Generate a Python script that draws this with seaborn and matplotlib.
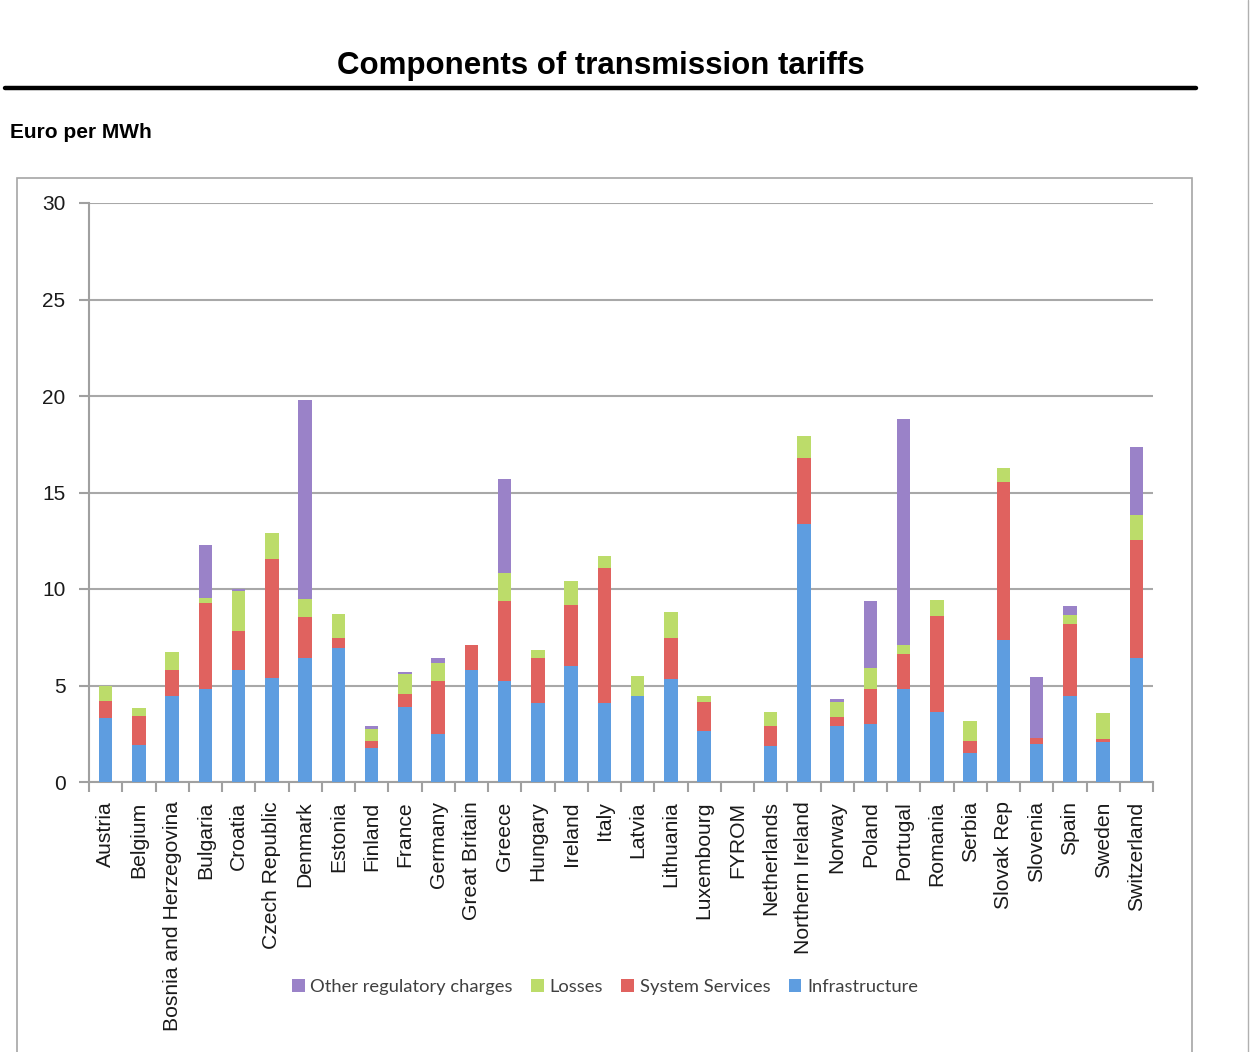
import matplotlib
matplotlib.use("Agg")
import matplotlib.pyplot as plt
from matplotlib.patches import Rectangle, Patch
from matplotlib.lines import Line2D
import numpy as np
import seaborn as sns

countries = ["Austria", "Belgium", "Bosnia and Herzegovina", "Bulgaria", "Croatia",
             "Czech Republic", "Denmark", "Estonia", "Finland", "France", "Germany",
             "Great Britain", "Greece", "Hungary", "Ireland", "Italy", "Latvia",
             "Lithuania", "Luxembourg", "FYROM", "Netherlands", "Northern Ireland",
             "Norway", "Poland", "Portugal", "Romania", "Serbia", "Slovak Rep",
             "Slovenia", "Spain", "Sweden", "Switzerland"]

infrastructure = [3.30, 1.90, 4.47, 4.82, 5.82, 5.39, 6.44, 6.94, 1.78, 3.89, 2.47,
                  5.82, 5.25, 4.09, 5.99, 4.09, 4.44, 5.35, 2.64, 0.00, 1.88, 13.37,
                  2.92, 3.02, 4.82, 3.64, 1.52, 7.37, 1.95, 4.47, 2.06, 6.44]
system_services = [0.90, 1.50, 1.32, 4.45, 2.00, 6.15, 2.09, 0.54, 0.34, 0.65, 2.78,
                   1.28, 4.13, 2.35, 3.20, 7.01, 0.00, 2.13, 1.52, 0.00, 1.04, 3.43,
                   0.45, 1.80, 1.83, 4.98, 0.60, 8.17, 0.35, 3.70, 0.17, 6.10]
losses = [0.80, 0.43, 0.96, 0.28, 2.08, 1.38, 0.93, 1.24, 0.63, 1.07, 0.92,
          0.00, 1.43, 0.38, 1.24, 0.61, 1.07, 1.35, 0.31, 0.00, 0.71, 1.11,
          0.79, 1.07, 0.45, 0.83, 1.04, 0.73, 0.00, 0.47, 1.35, 1.28]
other_charges = [0.00, 0.00, 0.00, 2.73, 0.12, 0.00, 10.35, 0.00, 0.15, 0.11, 0.27,
                 0.00, 4.91, 0.00, 0.00, 0.00, 0.00, 0.00, 0.00, 0.00, 0.00, 0.00,
                 0.12, 3.49, 11.69, 0.00, 0.00, 0.00, 3.14, 0.46, 0.00, 3.54]

series_names = ["Other regulatory charges", "Losses", "System Services", "Infrastructure"]
series_colors = ["#9a82c8", "#bcdc6a", "#e0625f", "#5e9de0"]

sns.set_theme(style="white")
plt.rcParams["font.family"] = ["Liberation Sans", "DejaVu Sans"]

W, H = 1251, 1052
fig = plt.figure(figsize=(W / 100, H / 100), dpi=100)

# outer chart frame
fig.add_artist(Rectangle((17 / W, -0.05), (1192 - 17) / W, 1 - 178 / H + 0.05,
                         transform=fig.transFigure, facecolor="none",
                         edgecolor="#a6a6a6", linewidth=1.2))
fig.add_artist(Line2D([1248 / W, 1248 / W], [0, 1], transform=fig.transFigure,
                      color="#b0b0b0", linewidth=1.0))

# title and rule
fig.text(601 / W, 1 - 66 / H, "Components of transmission tariffs", ha="center",
         va="center", fontsize=22.5, fontweight="bold", color="black")
fig.add_artist(Line2D([5 / W, 1196 / W], [1 - 88 / H, 1 - 88 / H],
                      transform=fig.transFigure, color="black", linewidth=3.2))
fig.text(10 / W, 1 - 133 / H, "Euro per MWh", ha="left", va="center",
         fontsize=15, fontweight="bold", color="black")

ax = fig.add_axes([89 / W, 1 - 782 / H, (1153 - 89) / W, (782 - 203) / H])

# stacked bars drawn as layered cumulative totals
infra = np.array(infrastructure)
ss = np.array(system_services)
ls = np.array(losses)
oc = np.array(other_charges)
layers = [infra + ss + ls + oc, infra + ss + ls, infra + ss, infra]
for vals, col in zip(layers, series_colors):
    sns.barplot(x=countries, y=vals, order=countries, color=col, saturation=1,
                width=0.4, ax=ax, linewidth=0, zorder=3)

ax.set_xlim(-0.5, len(countries) - 0.5)
ax.set_ylim(0, 30)
ax.set_yticks(range(0, 31, 5))
ax.yaxis.grid(True, color="#a8a8a8", linewidth=1.5, zorder=0)
ax.xaxis.grid(False)
ax.set_axisbelow(True)
for s in ["top", "right"]:
    ax.spines[s].set_visible(False)
for s in ["left", "bottom"]:
    ax.spines[s].set_color("#a0a0a0")
    ax.spines[s].set_linewidth(1.5)

ax.set_xticks(range(len(countries)))
ax.set_xticklabels(countries, rotation=90, fontsize=15.2, color="#1a1a1a")
ax.set_xticks(np.arange(-0.5, len(countries)), minor=True)
ax.tick_params(axis="x", which="major", length=0, pad=14)
ax.tick_params(axis="x", which="minor", length=7, width=1.5, color="#a0a0a0",
               direction="out", bottom=True)
ax.tick_params(axis="y", which="major", length=7, width=1.5, color="#a0a0a0",
               direction="out", left=True, labelsize=15, labelcolor="#1a1a1a", pad=10)
ax.set_xlabel("")
ax.set_ylabel("")

handles = [Patch(facecolor=c, edgecolor="none") for c in series_colors]
fig.legend(handles, series_names, loc="center", bbox_to_anchor=(605 / W, 1 - 987 / H),
           ncol=4, frameon=False, handlelength=0.7, handleheight=0.7,
           handletextpad=0.3, columnspacing=1.0,
           prop={"family": ["Lato", "DejaVu Sans"], "size": 13.2},
           labelcolor="#404040")

fig.savefig("out.png", dpi=100)
